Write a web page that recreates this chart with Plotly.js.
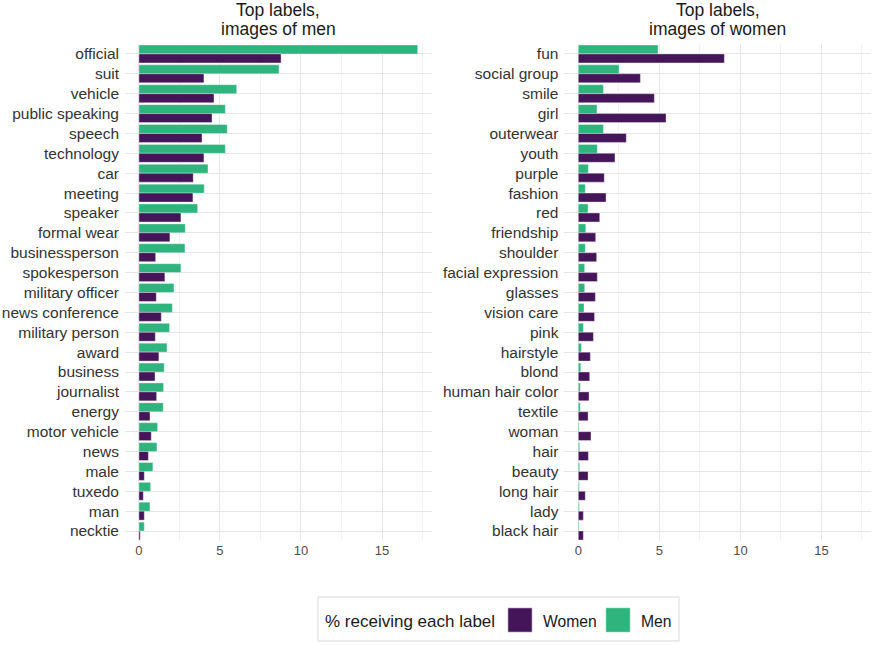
<!DOCTYPE html>
<html>
<head>
<meta charset="utf-8">
<script src="https://cdn.plot.ly/plotly-3.0.1.min.js"></script>
<style>
  html, body { margin: 0; padding: 0; background: #fff; }
  #plot { width: 874px; height: 645px; }
</style>
</head>
<body>
<div id="plot"></div>
<script>
// labels for images of men, top to bottom
var menLabels = ['official', 'suit', 'vehicle', 'public speaking', 'speech', 'technology', 'car',
  'meeting', 'speaker', 'formal wear', 'businessperson', 'spokesperson', 'military officer',
  'news conference', 'military person', 'award', 'business', 'journalist', 'energy',
  'motor vehicle', 'news', 'male', 'tuxedo', 'man', 'necktie'];
var menPanelMen = [17.2, 8.64, 6.03, 5.33, 5.45, 5.33, 4.26, 4.03, 3.62, 2.86, 2.84, 2.59, 2.16,
  2.06, 1.89, 1.73, 1.56, 1.52, 1.50, 1.15, 1.11, 0.86, 0.72, 0.68, 0.33];
var menPanelWomen = [8.77, 4.01, 4.63, 4.51, 3.89, 4.01, 3.35, 3.33, 2.59, 1.91, 1.03, 1.60, 1.07,
  1.38, 1.01, 1.23, 0.99, 1.09, 0.68, 0.76, 0.58, 0.33, 0.27, 0.33, 0.08];

// labels for images of women, top to bottom
var womenLabels = ['fun', 'social group', 'smile', 'girl', 'outerwear', 'youth', 'purple', 'fashion',
  'red', 'friendship', 'shoulder', 'facial expression', 'glasses', 'vision care', 'pink',
  'hairstyle', 'blond', 'human hair color', 'textile', 'woman', 'hair', 'beauty', 'long hair',
  'lady', 'black hair'];
var womenPanelMen = [4.92, 2.51, 1.55, 1.15, 1.55, 1.17, 0.62, 0.43, 0.60, 0.46, 0.43, 0.39, 0.39,
  0.35, 0.31, 0.19, 0.15, 0.12, 0.12, 0.05, 0.08, 0.08, 0.06, 0.06, 0.05];
var womenPanelWomen = [9.01, 3.83, 4.69, 5.41, 2.96, 2.26, 1.60, 1.71, 1.32, 1.07, 1.13, 1.17, 1.05,
  1.00, 0.93, 0.74, 0.70, 0.66, 0.60, 0.78, 0.62, 0.60, 0.43, 0.31, 0.31];

var titleLines = [['Top labels,', 'images of men'], ['Top labels,', 'images of women']];
var legendTitle = '% receiving each label';
var groups = ['Women', 'Men'];

var purple = '#45155a';
var green = '#2eb47c';
var FONT = 'Liberation Sans, Arial, sans-serif';

var W = 874, H = 645;
var M = { l: 125, r: 3, t: 44, b: 104 };
var PW = W - M.l - M.r, PH = H - M.t - M.b;
function px(x) { return (x - M.l) / PW; }
function py(y) { return 1 - (y - M.t) / PH; }

function bars(name, labels, values, color, xa, ya) {
  return {
    type: 'bar', orientation: 'h', name: name,
    x: values, y: labels, xaxis: xa, yaxis: ya,
    showlegend: false,
    marker: { color: color, line: { color: 'rgba(255,255,255,0.6)', width: 0.6 } },
    hoverinfo: 'x+y'
  };
}

var data = [
  bars('Men', menLabels, menPanelMen, green, 'x', 'y'),
  bars('Women', menLabels, menPanelWomen, purple, 'x', 'y'),
  bars('Men', womenLabels, womenPanelMen, green, 'x2', 'y2'),
  bars('Women', womenLabels, womenPanelWomen, purple, 'x2', 'y2')
];

var xax = {
  range: [-0.86, 18.06], tick0: 0, dtick: 5,
  showgrid: true, gridcolor: '#e6e6e6', gridwidth: 1,
  minor: { dtick: 2.5, showgrid: true, gridcolor: '#f2f2f2', gridwidth: 1 },
  zeroline: false, showline: false, ticks: '',
  tickfont: { family: FONT, size: 13, color: '#4d4d4d' }
};
var yax = {
  type: 'category', autorange: 'reversed',
  showgrid: true, gridcolor: '#e6e6e6', gridwidth: 1,
  zeroline: false, showline: false, ticks: '', ticklabelstandoff: 5,
  tickfont: { family: FONT, size: 15.5, color: '#333333' }
};

// hand-built legend (box, swatches, texts)
var shapes = [
  { type: 'rect', xref: 'paper', yref: 'paper', x0: px(318), x1: px(679), y0: py(641), y1: py(597),
    line: { color: '#d9d9d9', width: 1 }, fillcolor: '#fff' },
  { type: 'rect', xref: 'paper', yref: 'paper', x0: px(508), x1: px(532), y0: py(632), y1: py(608),
    line: { color: '#b9a6c2', width: 0.6 }, fillcolor: purple },
  { type: 'rect', xref: 'paper', yref: 'paper', x0: px(606), x1: px(630), y0: py(632), y1: py(608),
    line: { color: '#8fd6b6', width: 0.6 }, fillcolor: green }
];

var annotations = [];
['x domain', 'x2 domain'].forEach(function (ref, i) {
  [10, 29.5].forEach(function (yy, j) {
    annotations.push({
      text: titleLines[i][j], xref: ref, yref: 'paper', x: 0.5, y: py(yy),
      xanchor: 'center', yanchor: 'middle', showarrow: false, borderpad: 0,
      font: { size: 17.5, color: '#1a1a1a' }
    });
  });
});
annotations.push(
  { text: legendTitle, xref: 'paper', yref: 'paper', x: px(323), y: py(621),
    xanchor: 'left', yanchor: 'middle', showarrow: false, font: { size: 17, color: '#1a1a1a' } },
  { text: groups[0], xref: 'paper', yref: 'paper', x: px(541), y: py(621),
    xanchor: 'left', yanchor: 'middle', showarrow: false, font: { size: 15.7, color: '#1a1a1a' } },
  { text: groups[1], xref: 'paper', yref: 'paper', x: px(639), y: py(621),
    xanchor: 'left', yanchor: 'middle', showarrow: false, font: { size: 15.7, color: '#1a1a1a' } }
);

var layout = {
  width: W, height: H,
  margin: M,
  paper_bgcolor: '#fff', plot_bgcolor: '#fff',
  barmode: 'group', bargap: 0.1, bargroupgap: 0,
  xaxis: Object.assign({}, xax, { domain: [0, 0.411], anchor: 'y' }),
  xaxis2: Object.assign({}, xax, { domain: [0.589, 1], anchor: 'y2' }),
  yaxis: Object.assign({}, yax, { anchor: 'x' }),
  yaxis2: Object.assign({}, yax, { anchor: 'x2' }),
  font: { family: FONT, color: '#1a1a1a' },
  showlegend: false,
  shapes: shapes,
  annotations: annotations
};

Plotly.newPlot('plot', data, layout, { displayModeBar: false });
</script>
</body>
</html>
